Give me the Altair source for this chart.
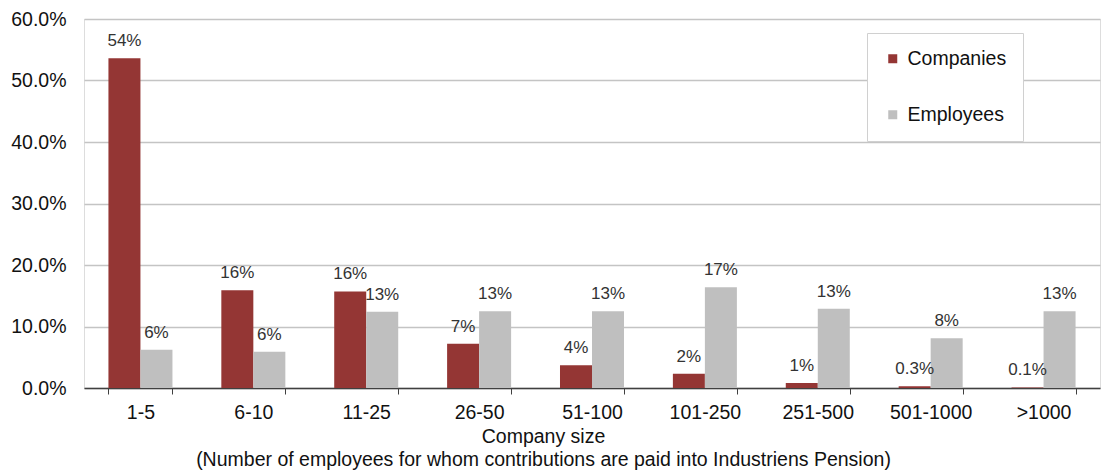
import altair as alt
import pandas as pd

categories = ["1-5", "6-10", "11-25", "26-50", "51-100", "101-250", "251-500", "501-1000", ">1000"]
series = ["Companies", "Employees"]
companies = [53.6, 15.9, 15.7, 7.2, 3.7, 2.3, 0.8, 0.3, 0.1]
employees = [6.2, 5.9, 12.4, 12.5, 12.5, 16.4, 12.9, 8.1, 12.5]
company_labels = ["54%", "16%", "16%", "7%", "4%", "2%", "1%", "0.3%", "0.1%"]
employee_labels = ["6%", "6%", "13%", "13%", "13%", "17%", "13%", "8%", "13%"]
y_ticks = [0, 10, 20, 30, 40, 50, 60]

rows = []
for c, v, l in zip(categories, companies, company_labels):
    rows.append({"size": c, "series": "Companies", "value": v, "label": l})
for c, v, l in zip(categories, employees, employee_labels):
    rows.append({"size": c, "series": "Employees", "value": v, "label": l})
df = pd.DataFrame(rows)

FONT = "Liberation Sans"
TXT = "#111111"
FS = 19.5

x_enc = alt.X(
    "size:N",
    sort=categories,
    scale=alt.Scale(paddingInner=0.433, paddingOuter=0.2165),
    axis=alt.Axis(
        title=["Company size", "(Number of employees for whom contributions are paid into Industriens Pension)"],
        labelAngle=0,
        labelFontSize=FS,
        labelFont=FONT,
        labelColor=TXT,
        labelPadding=9,
        tickBand="extent",
        tickSize=6,
        tickColor="#404040",
        domainColor="#404040",
        domainWidth=1.5,
        grid=False,
        titleFont=FONT,
        titleFontSize=FS,
        titleFontWeight="normal",
        titleColor=TXT,
        titleLineHeight=23,
        titlePadding=6,
        titleX=459,
        titleAlign="center",
    ),
)
y_enc = alt.Y(
    "value:Q",
    scale=alt.Scale(domain=[0, 60], nice=False),
    axis=alt.Axis(
        title=None,
        values=y_ticks,
        labelExpr="format(datum.value, '.1f') + '%'",
        labelFontSize=FS,
        labelFont=FONT,
        labelColor=TXT,
        labelPadding=18,
        ticks=False,
        domain=False,
        grid=True,
        gridColor="#c4c4c4",
        gridWidth=1.5,
    ),
)
xo_enc = alt.XOffset("series:N", sort=series, scale=alt.Scale(paddingInner=0, paddingOuter=0))

base = alt.Chart(df).encode(x=x_enc, y=y_enc, xOffset=xo_enc)

bars = base.mark_bar().encode(
    color=alt.Color(
        "series:N",
        sort=series,
        scale=alt.Scale(domain=series, range=["#943634", "#bfbfbf"]),
        legend=alt.Legend(
            title=None,
            orient="none",
            legendX=783,
            legendY=14,
            direction="vertical",
            symbolType="square",
            symbolSize=81,
            symbolStrokeWidth=0,
            labelFontSize=FS,
            labelFont=FONT,
            labelColor=TXT,
            labelOffset=5,
            rowPadding=35,
            padding=16,
            fillColor="white",
            strokeColor="#d0d0d0",
        ),
    )
)

text = base.mark_text(dy=-17, baseline="middle", fontSize=17, font=FONT, color="#333333").encode(
    text="label:N"
)

chart = (
    alt.layer(bars, text)
    .properties(
        width=1016,
        height=369,
        autosize=alt.AutoSizeParams(type="none"),
        padding={"left": 84, "top": 19, "right": 8, "bottom": 87},
    )
    .configure_view(stroke=None)
    .configure(background="white")
)

chart.save("out.html", embed_options={"renderer": "svg", "actions": False})
